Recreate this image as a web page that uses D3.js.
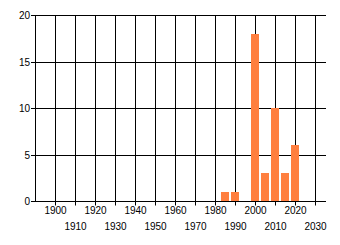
<!DOCTYPE html>
<html>
<head>
<meta charset="utf-8">
<script src="https://cdn.jsdelivr.net/npm/d3@7"></script>
<style>
  body { margin: 0; background: #fff; }
  text { font-family: "Liberation Sans", Arial, sans-serif; font-size: 10px; fill: #000; }
</style>
</head>
<body>
<div id="chart"></div>
<script>
// Data
const years = [1985, 1990, 1995, 2000, 2005, 2010, 2015, 2020];
const counts = [1, 1, 0, 18, 3, 10, 3, 6];
const xTicks = [1900, 1910, 1920, 1930, 1940, 1950, 1960, 1970, 1980, 1990, 2000, 2010, 2020, 2030];
const yTicks = [0, 5, 10, 15, 20];

const W = 340, H = 245;

const svg = d3.select("#chart")
    .append("svg")
    .attr("width", W)
    .attr("height", H);

// Scales
const x = d3.scaleLinear().domain([1890, 2035]).range([35.5, 325.5]);
const y = d3.scaleLinear().domain([0, 20]).range([201.5, 15.5]);

// horizontal grid lines (extend left as ticks)
svg.append("g")
    .selectAll("line")
    .data(yTicks)
    .join("line")
    .attr("x1", 31)
    .attr("x2", 326)
    .attr("y1", d => Math.round(y(d) - 0.5) + 0.5)
    .attr("y2", d => Math.round(y(d) - 0.5) + 0.5)
    .attr("stroke", "#000");

// vertical grid lines (extend below as ticks)
svg.append("g")
    .selectAll("line")
    .data(xTicks)
    .join("line")
    .attr("x1", d => x(d))
    .attr("x2", d => x(d))
    .attr("y1", y(20))
    .attr("y2", y(0) + 4)
    .attr("stroke", "#000");

// Bars
svg.append("g")
    .selectAll("rect")
    .data(years.map((yr, i) => ({ yr, v: counts[i] })).filter(d => d.v > 0))
    .join("rect")
    .attr("x", d => x(d.yr - 2) - 0.5)
    .attr("width", d => x(d.yr + 2) - x(d.yr - 2))
    .attr("y", d => Math.round(y(d.v) - 0.5))
    .attr("height", d => Math.round(y(0) - 0.5) - Math.round(y(d.v) - 0.5))
    .attr("fill", "#FF7F3F");

// axis lines
svg.append("line")
    .attr("x1", x(1890)).attr("x2", x(1890))
    .attr("y1", y(20)).attr("y2", y(0))
    .attr("stroke", "#000");
svg.append("line")
    .attr("x1", x(1890)).attr("x2", 326)
    .attr("y1", y(0)).attr("y2", y(0))
    .attr("stroke", "#000");

// Y labels
svg.append("g")
    .selectAll("text")
    .data(yTicks)
    .join("text")
    .attr("x", 30)
    .attr("y", d => y(d) + 3.5)
    .attr("text-anchor", "end")
    .text(d => d);

// X labels, staggered in two rows
svg.append("g")
    .selectAll("text")
    .data(xTicks)
    .join("text")
    .attr("x", d => x(d))
    .attr("y", (d, i) => i % 2 === 0 ? 214 : 229.5)
    .attr("text-anchor", "middle")
    .text(d => d);
</script>
</body>
</html>
